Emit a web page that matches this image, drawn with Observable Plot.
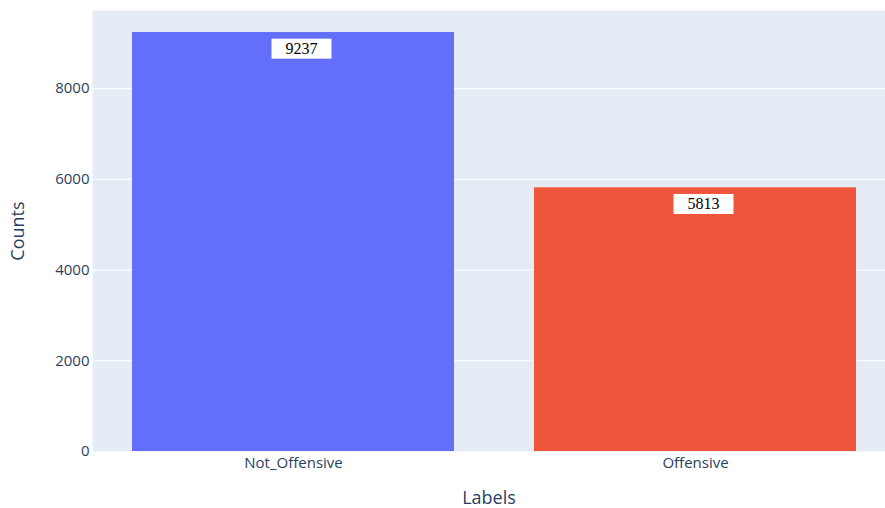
<!DOCTYPE html>
<html>
<head>
<meta charset="utf-8">
<script src="https://cdn.jsdelivr.net/npm/d3@7"></script>
<script src="https://cdn.jsdelivr.net/npm/@observablehq/plot@0.6"></script>
<style>
  html, body { margin: 0; padding: 0; background: #fff; }
  svg { display: block; }
</style>
</head>
<body>
<div id="chart"></div>
<script>
const categories = ["Not_Offensive", "Offensive"];
const counts = [9237, 5813];
const colors = ["#636EFA", "#EF553B"];
const yTicks = [0, 2000, 4000, 6000, 8000];

const data = categories.map((c, i) => ({label: c, count: counts[i], color: colors[i]}));

const chart = Plot.plot({
  width: 885,
  height: 508,
  marginLeft: 92,
  marginRight: 0,
  marginTop: 10,
  marginBottom: 57,
  style: {fontFamily: "'Open Sans', sans-serif", color: "#2a3f5f", background: "#fff"},
  x: {domain: categories, range: [92, 896], paddingInner: 0.2, paddingOuter: 0.1, align: 0.5},
  y: {domain: [0, 9723], labelArrow: false},
  marks: [
    Plot.frame({fill: "#E5ECF6", stroke: null}),
    Plot.gridY(yTicks.slice(1), {stroke: "#fff", strokeOpacity: 1, strokeWidth: 1}),
    Plot.barY(data, {x: "label", y: "count", fill: "color"}),
    Plot.text(data, {x: "label", y: "count", text: d => String(d.count), dx: 8, dy: 16,
      fontFamily: "'Liberation Serif', 'Times New Roman', serif", fontSize: 16, fill: "#000", className: "vlabel"}),
    Plot.axisY({ticks: yTicks, tickSize: 0, tickPadding: 3, fontSize: 15, label: "Counts",
      labelAnchor: "center", labelOffset: 81, labelArrow: false, tickFormat: d => String(d)}),
    Plot.axisX({tickSize: 0, tickPadding: 6, fontSize: 15, label: "Labels", labelAnchor: "center", labelOffset: 52})
  ]
});
document.getElementById("chart").appendChild(chart);

// white boxes behind value labels
chart.querySelectorAll(".vlabel text").forEach(t => {
  const b = t.getBBox();
  const r = document.createElementNS("http://www.w3.org/2000/svg", "rect");
  r.setAttribute("x", b.x - 14);
  r.setAttribute("y", b.y - 1);
  r.setAttribute("width", b.width + 28);
  r.setAttribute("height", b.height + 3);
  r.setAttribute("fill", "#fff");
  if (t.getAttribute("transform")) r.setAttribute("transform", t.getAttribute("transform"));
  t.parentNode.insertBefore(r, t);
});
// axis label sizes, strip any arrow
chart.querySelectorAll("g[aria-label='y-axis label'] text, g[aria-label='x-axis label'] text").forEach(t => {
  t.style.fontSize = "18px";
  t.textContent = t.textContent.replace(/[\u2190-\u2193]/g, "").trim();
});
</script>
</body>
</html>
